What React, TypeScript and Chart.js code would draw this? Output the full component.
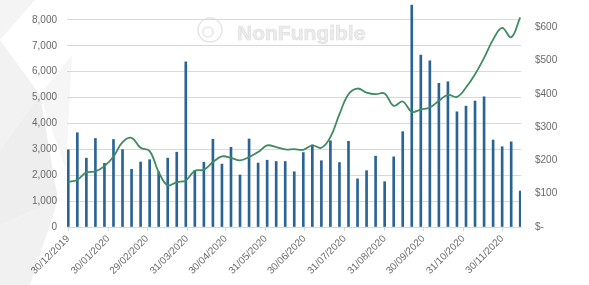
import { useEffect, useRef } from "react";
import { Chart, registerables } from "chart.js";
Chart.register(...registerables);

// Weekly data starting 30/12/2019 (one point every 7 days)
const weeklyVolume = [
  2980, 3640, 2660, 3420, 2460, 3380, 2990, 2230, 2510, 2600,
  2135, 2660, 2890, 6380, 2190, 2500, 3390, 2430, 3080, 2010,
  3400, 2470, 2580, 2530, 2530, 2135, 2875, 3170, 2560, 3330,
  2490, 3310, 1860, 2175, 2735, 1750, 2710, 3680, 8570, 6640,
  6420, 5550, 5610, 4450, 4670, 4865, 5030, 3360, 3100, 3290,
  1390,
];
const weeklyPrice = [
  135, 142, 164, 167, 183, 211, 255, 268, 238, 228,
  165, 125, 135, 140, 169, 172, 195, 212, 208, 200,
  210, 225, 245, 240, 233, 234, 232, 245, 238, 270,
  339, 399, 416, 404, 399, 401, 364, 377, 346, 353,
  359, 379, 397, 391, 419, 459, 508, 563, 598, 570,
  630,
];
const DAYS_PER_WEEK = 7;
const monthTickDays = [0, 31, 61, 92, 122, 153, 183, 214, 245, 275, 306, 336];
const monthTickLabels = [
  "30/12/2019", "30/01/2020", "29/02/2020", "31/03/2020", "30/04/2020", "31/05/2020",
  "30/06/2020", "31/07/2020", "31/08/2020", "30/09/2020", "31/10/2020", "30/11/2020",
];
const leftMax = 9000;
const leftStep = 1000;
const rightMax = 700;
const rightStep = 100;

const T = 16; // canvas shifted up (reference is cropped at the top)
const FONT = "'Liberation Sans', Arial, sans-serif";
const TEXT = "#6b6b6b";
const GRID = "#d9d9d9";

const bgPlugin = {
  id: "bg",
  beforeDraw(chart: any) {
    const ctx = chart.ctx;
    ctx.save();
    ctx.fillStyle = "#ffffff";
    ctx.fillRect(0, 0, chart.width, chart.height);
    const polys: [number, number][][] = [
      [[0, 40], [40, 95], [0, 150]],
      [[0, 150], [40, 95], [58, 200], [0, 225]],
      [[0, 225], [58, 200], [30, 285], [0, 285]],
      [[40, 95], [72, 55], [66, 170]],
      [[0, 0], [35, 0], [0, 40]],
    ];
    const fills = ["#f2f2f2", "#eeeeee", "#f1f1f1", "#f6f6f6", "#f4f4f4"];
    polys.forEach((p, i) => {
      ctx.beginPath();
      p.forEach(([x, y], j) => (j ? ctx.lineTo(x, y + T) : ctx.moveTo(x, y + T)));
      ctx.closePath();
      ctx.fillStyle = fills[i];
      ctx.fill();
    });
    // watermark
    ctx.strokeStyle = "#e6e6e6";
    ctx.lineWidth = 1.5;
    ctx.beginPath();
    ctx.arc(210, 30 + T, 12, 0, Math.PI * 2);
    ctx.stroke();
    ctx.beginPath();
    ctx.arc(208, 32 + T, 5, 0, Math.PI * 2);
    ctx.stroke();
    ctx.font = `bold 21px ${FONT}`;
    ctx.textBaseline = "alphabetic";
    ctx.fillStyle = "#ececec";
    ctx.fillText("NonFungible", 237, 40 + T);
    ctx.lineWidth = 0.7;
    ctx.strokeStyle = "#dedede";
    ctx.strokeText("NonFungible", 237, 40 + T);
    ctx.restore();
  },
};

export default function App() {
  const ref = useRef<HTMLCanvasElement>(null);
  useEffect(() => {
    if (!ref.current) return;
    const chart = new Chart(ref.current, {
      type: "bar",
      data: {
        datasets: [
          {
            type: "line",
            data: weeklyPrice.map((v, i) => ({ x: i * DAYS_PER_WEEK, y: v })),
            yAxisID: "y1",
            borderColor: "#3f8c5f",
            borderWidth: 1.8,
            pointRadius: 0,
            tension: 0.4,
            order: 0,
          } as any,
          {
            type: "bar",
            data: weeklyVolume.map((v, i) => ({ x: i * DAYS_PER_WEEK, y: v })),
            yAxisID: "y",
            backgroundColor: "#2a6495",
            barThickness: 2,
            order: 1,
          },
        ],
      },
      options: {
        animation: false,
        responsive: true,
        maintainAspectRatio: false,
        layout: { padding: { top: 10, left: 0, right: 0, bottom: 0 } },
        plugins: { legend: { display: false }, tooltip: { enabled: false } },
        scales: {
          x: {
            type: "linear",
            offset: false,
            min: -1,
            max: 350.6,
            grid: { drawOnChartArea: false, drawTicks: true, tickLength: 4, color: GRID, offset: false },
            border: { display: true, color: GRID },
            afterBuildTicks: (s: any) => {
              s.ticks = monthTickDays.map((v) => ({ value: v }));
            },
            ticks: {
              autoSkip: false,
              maxRotation: 45,
              minRotation: 45,
              padding: 2,
              color: TEXT,
              font: { family: FONT, size: 10 },
              callback: (v: any) => {
                const i = monthTickDays.indexOf(Number(v));
                return i >= 0 ? monthTickLabels[i] : "";
              },
            },
            afterFit: (s: any) => {
              s.height = 58;
              s.paddingLeft = 0;
              s.paddingRight = 0;
            },
          },
          y: {
            position: "left",
            min: 0,
            max: leftMax,
            grid: { color: GRID, drawTicks: false },
            border: { display: false },
            ticks: {
              stepSize: leftStep,
              padding: 10,
              color: TEXT,
              font: { family: FONT, size: 10 },
              callback: (v: any) => Number(v).toLocaleString("en-US"),
            },
            afterFit: (s: any) => {
              s.width = 67;
              s.paddingTop = 0;
              s.paddingBottom = 0;
            },
          },
          y1: {
            position: "right",
            min: 0,
            max: rightMax,
            grid: { display: false, drawTicks: false },
            border: { display: false },
            ticks: {
              stepSize: rightStep,
              padding: 14,
              color: TEXT,
              font: { family: FONT, size: 10 },
              callback: (v: any) => (Number(v) === 0 ? "$-" : "$" + v),
            },
            afterFit: (s: any) => {
              s.width = 68;
              s.paddingTop = 0;
              s.paddingBottom = 0;
            },
          },
        },
      },
      plugins: [bgPlugin],
    });
    return () => chart.destroy();
  }, []);
  return (
    <div style={{ position: "fixed", left: 0, top: -T, width: 589, height: 285 + T }}>
      <canvas ref={ref} />
    </div>
  );
}
